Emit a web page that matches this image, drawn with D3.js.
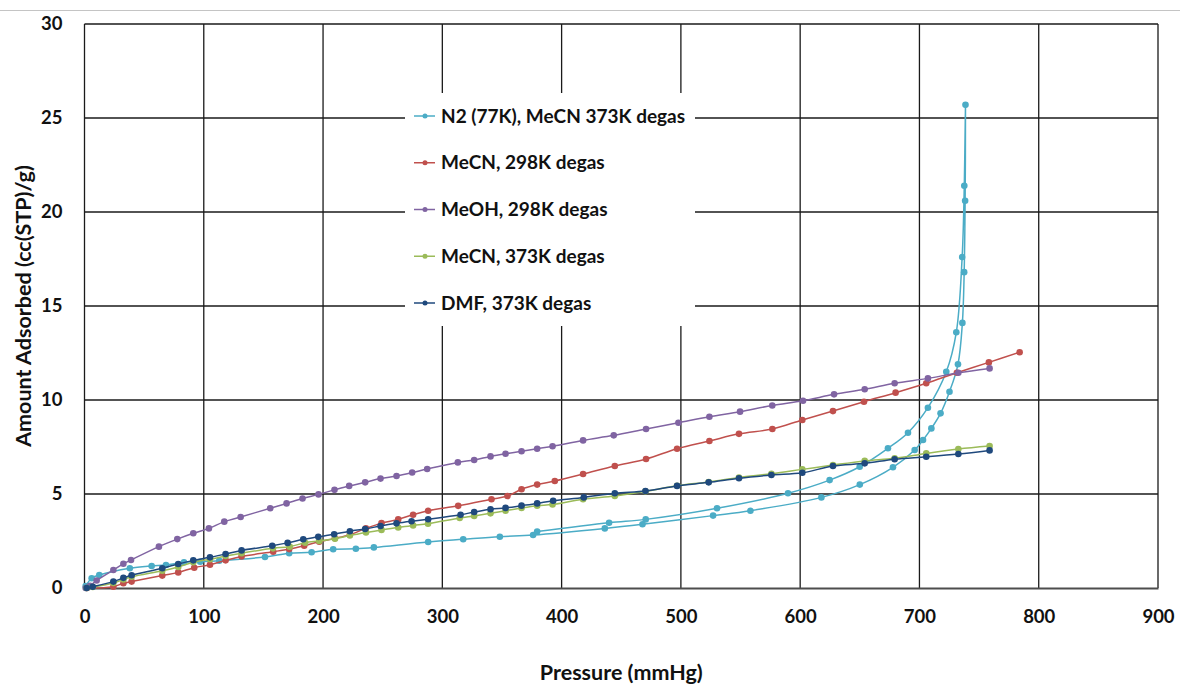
<!DOCTYPE html>
<html>
<head>
<meta charset="utf-8">
<script src="https://cdn.jsdelivr.net/npm/d3@7"></script>
<style>
  html, body { margin: 0; padding: 0; background: #fff; }
  svg { display: block; font-family: Lato, "Open Sans", sans-serif; font-weight: bold; }
</style>
</head>
<body>
<svg id="chart" width="1180" height="685"></svg>
<script>
// Isotherm data: pressure (mmHg) and amount adsorbed (cc(STP)/g) per run.
const seriesNames = [
  "N2 (77K), MeCN 373K degas",
  "MeCN, 298K degas",
  "MeOH, 298K degas",
  "MeCN, 373K degas",
  "DMF, 373K degas"
];
const seriesColors = ["#4BACC6", "#C0504D", "#8064A2", "#9BBB59", "#1F497D"];

// N2 at 77K: adsorption branch up to saturation, then desorption branch
const n2Pressure = [1, 6, 12.4, 38, 56.3, 68.3, 83.4, 97, 113, 151.3, 171.6, 190.4, 208.5, 227.5, 242.6, 288.1, 317.5, 348.2, 376.1, 436.2, 467.8, 527, 558.3, 617.8, 650, 677.8, 696, 703, 710, 717.7, 725.2, 732.3, 736, 737.5, 738.3, 738.6,
  737.6, 735.8, 730.9, 722.5, 707.1, 690.4, 673.6, 649.9, 624.7, 589.8, 530.3, 470.5, 439.8, 379.5];
const n2Amount = [0.1, 0.52, 0.69, 1.05, 1.17, 1.22, 1.37, 1.4, 1.45, 1.65, 1.85, 1.9, 2.06, 2.09, 2.16, 2.45, 2.59, 2.73, 2.82, 3.17, 3.39, 3.85, 4.11, 4.82, 5.5, 6.42, 7.34, 7.87, 8.49, 9.29, 10.44, 11.9, 14.1, 16.8, 20.6, 25.7,
  21.4, 17.6, 13.6, 11.5, 9.59, 8.26, 7.43, 6.45, 5.74, 5.04, 4.24, 3.65, 3.47, 3.0];

const mecn298Pressure = [2, 24.2, 32.6, 39.5, 65.2, 78.6, 92, 105.2, 118.3, 131.7, 158.2, 171.6, 184.2, 196.8, 209.9, 222.5, 235.9, 249, 263, 275.5, 288.1, 313.3, 341.2, 354.6, 366.4, 379.5, 394.3, 418, 444.6, 470.8, 496.8, 523.9, 548.7, 576.7, 601.8, 627.5, 653.5, 680, 705.7, 731.4, 758.2, 784];
const mecn298Amount = [0, 0.07, 0.25, 0.34, 0.66, 0.83, 1.08, 1.24, 1.47, 1.68, 1.93, 2.07, 2.25, 2.46, 2.64, 2.84, 3.17, 3.45, 3.65, 3.9, 4.11, 4.37, 4.72, 4.89, 5.25, 5.5, 5.69, 6.06, 6.49, 6.86, 7.41, 7.82, 8.2, 8.46, 8.94, 9.41, 9.91, 10.39, 10.89, 11.45, 12.0, 12.54];

const meoh298Pressure = [1, 4.6, 10.2, 24.2, 32.6, 39, 62.4, 77.8, 91.2, 104.3, 117.2, 130.9, 155.7, 169.4, 182.8, 196.2, 209.6, 221.9, 235.3, 248.2, 261.6, 274.7, 287.3, 313, 326.7, 340.4, 353, 366.4, 379.5, 392.4, 418, 443.7, 470.8, 497.9, 523.9, 549.6, 576.6, 602.4, 628.4, 654.1, 679.2, 707.1, 732.6, 758.8];
const meoh298Amount = [0, 0.12, 0.4, 0.96, 1.29, 1.49, 2.2, 2.6, 2.91, 3.17, 3.53, 3.78, 4.24, 4.5, 4.76, 4.98, 5.22, 5.43, 5.62, 5.82, 5.96, 6.14, 6.33, 6.68, 6.81, 7.0, 7.14, 7.27, 7.41, 7.54, 7.85, 8.12, 8.46, 8.79, 9.11, 9.38, 9.71, 9.96, 10.3, 10.57, 10.89, 11.15, 11.45, 11.68];

const mecn373Pressure = [1.8, 6.9, 24.2, 32.6, 39.5, 65.2, 78.6, 91.2, 105.2, 118.3, 131.7, 158, 172, 185, 196.8, 210, 222.5, 236, 249, 263, 275.5, 288, 314.6, 326.7, 340.4, 353, 366.4, 379.5, 392.4, 418, 444.6, 470.3, 496.8, 523.3, 548.7, 575.9, 601.8, 627.5, 654.1, 679.2, 705.7, 732.6, 758.8];
const mecn373Amount = [0, 0.05, 0.27, 0.45, 0.6, 0.92, 1.12, 1.37, 1.53, 1.7, 1.85, 2.11, 2.2, 2.41, 2.5, 2.62, 2.79, 2.95, 3.09, 3.22, 3.33, 3.42, 3.72, 3.83, 3.97, 4.11, 4.26, 4.38, 4.44, 4.72, 4.89, 5.14, 5.44, 5.64, 5.88, 6.08, 6.31, 6.54, 6.76, 6.9, 7.16, 7.39, 7.55];

const dmf373Pressure = [1.8, 6.9, 24.2, 32.6, 39.5, 65.2, 78.6, 91.2, 105.2, 118.3, 131.7, 157.4, 170.3, 183.4, 196, 209.3, 222.5, 235.3, 248.2, 261.6, 274.2, 288.1, 315.3, 326.7, 340.4, 353, 366.4, 379.5, 392.9, 418.6, 444.6, 470.3, 496.8, 523.3, 548.7, 575.9, 601.8, 627.5, 654.1, 679.2, 705.7, 732.6, 758.8];
const dmf373Amount = [0, 0.07, 0.34, 0.54, 0.68, 1.05, 1.28, 1.47, 1.63, 1.81, 2.0, 2.25, 2.4, 2.59, 2.72, 2.86, 3.02, 3.14, 3.3, 3.44, 3.55, 3.66, 3.9, 4.04, 4.19, 4.26, 4.38, 4.5, 4.64, 4.82, 5.04, 5.16, 5.43, 5.62, 5.84, 6.01, 6.13, 6.49, 6.63, 6.85, 6.98, 7.13, 7.32];

const xTicks = [0, 100, 200, 300, 400, 500, 600, 700, 800, 900];
const yTicks = [0, 5, 10, 15, 20, 25, 30];

const pressures = [n2Pressure, mecn298Pressure, meoh298Pressure, mecn373Pressure, dmf373Pressure];
const amounts = [n2Amount, mecn298Amount, meoh298Amount, mecn373Amount, dmf373Amount];

const series = seriesNames.map((name, i) => ({
  name,
  color: seriesColors[i],
  points: pressures[i].map((p, j) => ({ p, a: amounts[i][j] }))
}));

const svg = d3.select("#chart");
const plot = { left: 84.5, right: 1158, top: 24, bottom: 588 };

const x = d3.scaleLinear().domain([0, 900]).range([plot.left, plot.right]);
const y = d3.scaleLinear().domain([0, 30]).range([plot.bottom, plot.top]);

// thin rule across the top of the page
svg.append("line")
  .attr("x1", 0).attr("x2", 1180).attr("y1", 10.5).attr("y2", 10.5)
  .attr("stroke", "#c4c4c4").attr("stroke-width", 1.2);

// gridlines
const grid = svg.append("g");
grid.selectAll("line.v").data(xTicks.filter(t => t > 0)).join("line")
  .attr("class", "v")
  .attr("x1", d => x(d)).attr("x2", d => x(d))
  .attr("y1", plot.top).attr("y2", plot.bottom)
  .attr("stroke", "#1a1a1a").attr("stroke-width", 1.3);
grid.selectAll("line.h").data(yTicks.filter(t => t > 0)).join("line")
  .attr("class", "h")
  .attr("x1", plot.left).attr("x2", plot.right)
  .attr("y1", d => y(d)).attr("y2", d => y(d))
  .attr("stroke", "#1a1a1a").attr("stroke-width", 1.3);

// left axis line
svg.append("line")
  .attr("x1", plot.left).attr("x2", plot.left)
  .attr("y1", plot.top).attr("y2", plot.bottom)
  .attr("stroke", "#1a1a1a").attr("stroke-width", 1.3);

// axes via d3, labels only
const xAxis = svg.append("g")
  .attr("transform", `translate(0,${plot.bottom})`)
  .call(d3.axisBottom(x).tickValues(xTicks).tickSize(0).tickPadding(22));
xAxis.select(".domain").attr("stroke", "#4d4d4d").attr("stroke-width", 2);
xAxis.selectAll("text").attr("font-size", 18.5).attr("font-family", "Lato, sans-serif")
  .attr("font-weight", "bold").attr("fill", "#111");

const yAxis = svg.append("g")
  .attr("transform", `translate(${plot.left},0)`)
  .call(d3.axisLeft(y).tickValues(yTicks).tickSize(0).tickPadding(22));
yAxis.select(".domain").remove();
yAxis.selectAll("text").attr("font-size", 18.5).attr("font-family", "Lato, sans-serif")
  .attr("font-weight", "bold").attr("fill", "#111");

// axis titles
svg.append("text")
  .attr("x", (plot.left + plot.right) / 2).attr("y", 680)
  .attr("text-anchor", "middle").attr("font-size", 21.5).attr("fill", "#111")
  .text("Pressure (mmHg)");
svg.append("text")
  .attr("transform", `translate(31,${(plot.top + plot.bottom) / 2}) rotate(-90)`)
  .attr("text-anchor", "middle").attr("font-size", 21.5).attr("fill", "#111")
  .text("Amount Adsorbed (cc(STP)/g)");

// legend panel covering the gridlines
const legend = svg.append("g");
legend.append("rect")
  .attr("x", 405).attr("y", 93).attr("width", 290).attr("height", 233)
  .attr("fill", "#fff");

// series lines and markers
const line = d3.line()
  .x(d => x(d.p)).y(d => y(d.a))
  .curve(d3.curveCatmullRom.alpha(0.5));

const marks = svg.append("g");
series.forEach(s => {
  const g = marks.append("g");
  g.append("path")
    .attr("d", line(s.points))
    .attr("fill", "none").attr("stroke", s.color).attr("stroke-width", 1.5);
  g.selectAll("circle").data(s.points).join("circle")
    .attr("cx", d => x(d.p)).attr("cy", d => y(d.a)).attr("r", 3.3)
    .attr("fill", s.color);
});

// legend entries
const rowY = d3.scaleLinear().domain([0, seriesNames.length - 1]).range([116, 303]);
series.forEach((s, i) => {
  const ry = rowY(i);
  legend.append("line")
    .attr("x1", 414).attr("x2", 435).attr("y1", ry).attr("y2", ry)
    .attr("stroke", s.color).attr("stroke-width", 1.5);
  legend.append("circle")
    .attr("cx", 425).attr("cy", ry).attr("r", 2.5).attr("fill", s.color);
  legend.append("text")
    .attr("x", 441).attr("y", ry).attr("dy", "0.35em")
    .attr("font-size", 19).attr("fill", "#111")
    .text(s.name);
});
</script>
</body>
</html>
